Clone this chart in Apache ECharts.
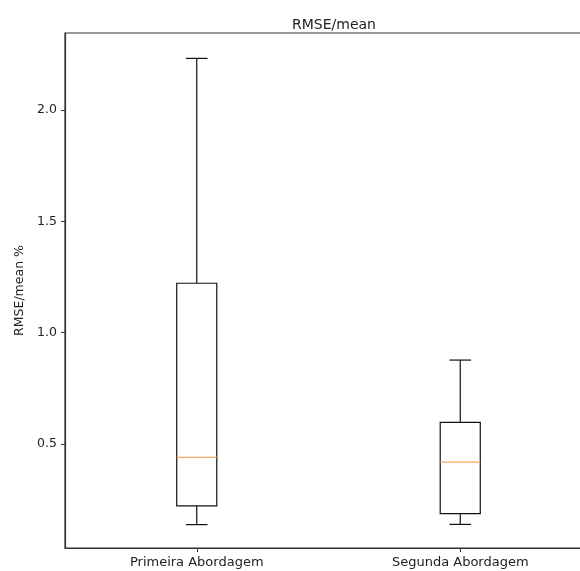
<!DOCTYPE html>
<html>
<head>
<meta charset="utf-8">
<script src="https://cdn.jsdelivr.net/npm/echarts@6/dist/echarts.min.js"></script>
<style>html,body{margin:0;padding:0;background:#fff}#c{width:580px;height:571px}</style>
</head>
<body>
<div id="c"></div>
<script>
var categories = ['Primeira Abordagem', 'Segunda Abordagem'];
var whiskerLow = [0.138, 0.139];
var q1 = [0.222, 0.187];
var median = [0.44, 0.419];
var q3 = [1.222, 0.597];
var whiskerHigh = [2.232, 0.877];
var yTicks = [0.5, 1.0, 1.5, 2.0];

var data = categories.map(function (c, i) {
  return [i, whiskerLow[i], q1[i], median[i], q3[i], whiskerHigh[i]];
});

var FONT = '"DejaVu Sans", sans-serif';
var chart = echarts.init(document.getElementById('c'), null, {renderer: 'canvas'});

function renderItem(params, api) {
  var idx = api.value(0);
  var band = api.size([1, 0])[0];
  var bw = band * 0.152;
  var cw = bw * 0.54;
  var pLow = api.coord([idx, api.value(1)]);
  var pQ1 = api.coord([idx, api.value(2)]);
  var pMed = api.coord([idx, api.value(3)]);
  var pQ3 = api.coord([idx, api.value(4)]);
  var pHigh = api.coord([idx, api.value(5)]);
  var x = pQ1[0];
  var ls = {stroke: '#111', lineWidth: 1.2, fill: null};
  return {
    type: 'group',
    children: [
      {type: 'rect', shape: {x: x - bw / 2, y: pQ3[1], width: bw, height: pQ1[1] - pQ3[1]}, style: {stroke: '#111', lineWidth: 1.2, fill: '#fff'}},
      {type: 'line', shape: {x1: x, y1: pQ3[1], x2: x, y2: pHigh[1]}, style: ls},
      {type: 'line', shape: {x1: x, y1: pQ1[1], x2: x, y2: pLow[1]}, style: ls},
      {type: 'line', shape: {x1: x - cw / 2, y1: pHigh[1], x2: x + cw / 2, y2: pHigh[1]}, style: ls},
      {type: 'line', shape: {x1: x - cw / 2, y1: pLow[1], x2: x + cw / 2, y2: pLow[1]}, style: ls},
      {type: 'line', shape: {x1: x - bw / 2, y1: pMed[1], x2: x + bw / 2, y2: pMed[1]}, style: {stroke: '#f7a75f', lineWidth: 1.2}}
    ]
  };
}

chart.setOption({
  animation: false,
  backgroundColor: '#fff',
  title: {
    text: 'RMSE/mean',
    left: 329, top: 13,
    textAlign: 'center',
    textStyle: {fontFamily: FONT, fontSize: 14, fontWeight: 'normal', color: '#222'}
  },
  grid: {
    left: 65, top: 33, width: 527, height: 515,
    containLabel: false, outerBoundsMode: 'none',
    show: true, borderColor: '#333', borderWidth: 1.2, backgroundColor: 'transparent'
  },
  xAxis: {
    type: 'category',
    data: categories,
    boundaryGap: true,
    axisLine: {show: true, lineStyle: {color: '#333', width: 1.2}},
    axisTick: {show: true, alignWithLabel: true, length: 4, lineStyle: {color: '#333'}},
    axisLabel: {fontFamily: FONT, fontSize: 13, color: '#222', margin: 8},
    splitLine: {show: false}
  },
  yAxis: {
    type: 'value',
    min: 0.033, max: 2.346,
    name: 'RMSE/mean %',
    nameLocation: 'middle',
    nameRotate: 90,
    nameGap: 39,
    nameTextStyle: {fontFamily: FONT, fontSize: 12.5, color: '#222', padding: [0, 0, 0, 0]},
    axisLine: {show: true, lineStyle: {color: '#333', width: 1.2}},
    axisTick: {show: true, inside: false, length: 4, lineStyle: {color: '#333'}, customValues: yTicks},
    axisLabel: {fontFamily: FONT, fontSize: 12.5, color: '#222', margin: 8, customValues: yTicks,
      formatter: function (v) { return Number(v).toFixed(1); }},
    splitLine: {show: false}
  },
  series: [{
    type: 'custom',
    renderItem: renderItem,
    data: data,
    encode: {x: 0, y: [1, 2, 3, 4, 5]},
    clip: false
  }]
});
</script>
</body>
</html>
